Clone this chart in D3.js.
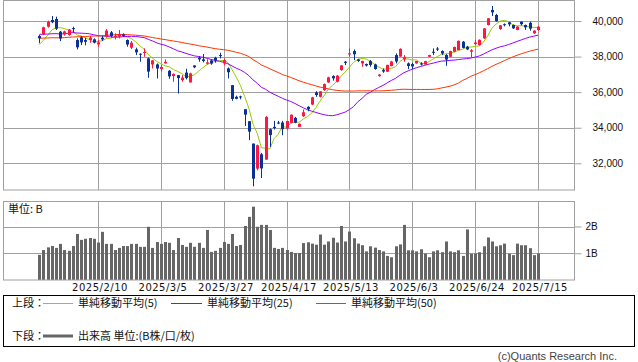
<!DOCTYPE html>
<html>
<head>
<meta charset="utf-8">
<script src="https://cdn.jsdelivr.net/npm/d3@7"></script>
<style>
  html, body { margin: 0; padding: 0; background: #fff; }
  svg { display: block; }
</style>
</head>
<body>
<div id="chart"></div>
<script>
// daily bars, 2025/1/21 .. 2025/7/15
var dates = ["2025/1/21","2025/1/22","2025/1/23","2025/1/24","2025/1/27","2025/1/28","2025/1/29","2025/1/30","2025/1/31",
  "2025/2/3","2025/2/4","2025/2/5","2025/2/6","2025/2/7","2025/2/10","2025/2/12","2025/2/13","2025/2/14","2025/2/17",
  "2025/2/18","2025/2/19","2025/2/20","2025/2/21","2025/2/25","2025/2/26","2025/2/27","2025/2/28","2025/3/3","2025/3/4",
  "2025/3/5","2025/3/6","2025/3/7","2025/3/10","2025/3/11","2025/3/12","2025/3/13","2025/3/14","2025/3/17","2025/3/18",
  "2025/3/19","2025/3/21","2025/3/24","2025/3/25","2025/3/26","2025/3/27","2025/3/28","2025/3/31","2025/4/1","2025/4/2",
  "2025/4/3","2025/4/4","2025/4/7","2025/4/8","2025/4/9","2025/4/10","2025/4/11","2025/4/14","2025/4/15","2025/4/16",
  "2025/4/17","2025/4/18","2025/4/21","2025/4/22","2025/4/23","2025/4/24","2025/4/25","2025/4/28","2025/4/30","2025/5/1",
  "2025/5/2","2025/5/7","2025/5/8","2025/5/9","2025/5/12","2025/5/13","2025/5/14","2025/5/15","2025/5/16","2025/5/19",
  "2025/5/20","2025/5/21","2025/5/22","2025/5/23","2025/5/26","2025/5/27","2025/5/28","2025/5/29","2025/5/30","2025/6/2",
  "2025/6/3","2025/6/4","2025/6/5","2025/6/6","2025/6/9","2025/6/10","2025/6/11","2025/6/12","2025/6/13","2025/6/16",
  "2025/6/17","2025/6/18","2025/6/19","2025/6/20","2025/6/23","2025/6/24","2025/6/25","2025/6/26","2025/6/27","2025/6/30",
  "2025/7/1","2025/7/2","2025/7/3","2025/7/4","2025/7/7","2025/7/8","2025/7/9","2025/7/10","2025/7/11","2025/7/14","2025/7/15"];

var open = [39155,39250,39680,40056,40113,39399,39249,39211,39600,
  38930,39080,38930,38930,38967,38685,39061,39117,39361,39100,
  39117,39249,38930,38498,38404,38160,38216,37897,37559,37559,
  37296,37615,37202,36901,36958,36676,37100,36545,37502,37934,
  37840,37600,37780,37934,38084,37615,37333,36394,35737,35760,
  35042,34366,33108,31699,32507,32206,33915,34047,34291,34291,
  33953,34272,34554,34047,34648,35174,35305,35981,35737,36112,
  36545,36901,36582,37239,37709,38120,38310,37840,37615,37580,
  37746,37559,36901,37239,37146,37465,38084,38000,37840,37615,
  37577,37615,37615,37559,37990,38272,38450,38310,38084,37990,
  38272,38366,38836,38554,38272,38700,38648,39023,39775,40620,
  40338,39550,39820,39925,39775,39493,39962,39775,39900,39305,39493];

var high = [39211,39680,40019,40280,40244,39437,39455,39549,39681,
  39023,39155,39061,39155,39023,38930,39155,39549,39437,39305,
  39493,39305,38967,38873,38498,38178,38460,37950,37803,37615,
  37521,37840,37239,37052,36958,36958,37314,37089,37502,38028,
  38141,37850,37840,37990,38216,37897,37390,36394,35800,35800,
  35042,34366,33108,33050,32582,34650,33953,34385,34385,34385,
  34385,34750,34610,34240,35023,35211,35737,36056,36056,36488,
  36864,36950,36958,37530,37750,38460,38404,37870,37765,37610,
  37803,37600,37014,37333,37540,37760,38178,38460,38084,37671,
  37653,37760,37680,37760,38100,38460,38536,38350,38141,38330,
  38560,38900,38873,38600,38420,38930,38967,39600,40170,40845,
  40400,39775,39860,39950,39800,39700,39980,39800,39962,39480,39720];

var low = [38750,39211,39624,39880,39493,38870,39174,39174,39361,
  38404,38648,38630,38779,38742,38554,38873,39061,39080,38967,
  39023,39100,38554,38422,38084,37709,37990,36807,37333,36770,
  37146,37615,36751,36582,35925,36582,36714,36545,37350,37709,
  37671,37559,37540,37653,37897,37521,36770,35512,35600,35600,
  34100,33300,30704,31606,31173,32206,32920,33897,34200,33577,
  33897,34250,34250,34047,34610,34929,35267,35737,35700,36075,
  36526,36650,36545,37202,37520,37990,37803,37700,37427,37440,
  37427,37260,36870,37089,37130,37450,37615,37990,37709,37296,
  37296,37600,37500,37540,37970,38084,38310,38084,37483,37970,
  38250,38350,38460,38366,37953,38660,38620,39000,39750,40282,
  39960,39500,39700,39700,39550,39480,39750,39500,39455,39280,39450];

var close = [39028,39646,39959,39932,39566,39017,39415,39514,39572,
  38520,38798,38831,39066,38787,38801,38964,39461,39149,39174,
  39270,39165,38678,38777,38238,38142,38256,37155,37785,37331,
  37418,37705,36887,37028,36793,36819,36790,37053,37397,37845,
  37752,37677,37608,37780,38027,37800,37120,35618,35624,35726,
  34736,33781,31137,33013,31714,34609,33586,33982,34268,33920,
  34378,34730,34280,34221,34869,35039,35706,35840,36045,36452,
  36831,36780,36929,37503,37644,38183,38128,37756,37754,37499,
  37529,37299,36986,37160,37532,37724,37722,38433,37965,37471,
  37447,37747,37554,37742,38089,38212,38421,38173,37834,38311,
  38537,38885,38488,38403,38354,38791,38942,39585,40151,40487,
  39986,39762,39786,39811,39588,39689,39821,39646,39570,39460,39678];

// volume, billions of shares
var volume = [0.94,1.12,1.22,1.27,1.20,1.35,1.12,1.09,1.27,
  1.72,1.50,1.54,1.57,1.54,1.40,1.80,1.35,1.35,1.12,
  1.20,1.27,1.27,1.35,1.35,1.24,1.24,1.99,1.20,1.42,
  1.35,1.42,1.39,1.12,1.57,1.31,1.24,1.39,1.24,1.39,
  1.20,1.87,1.05,1.09,1.20,1.42,1.35,1.72,1.27,1.31,
  2.02,2.36,2.74,1.99,2.06,2.06,1.87,1.20,1.16,1.20,
  1.12,1.05,1.01,1.01,1.38,1.41,1.36,1.32,1.70,1.32,
  1.44,1.58,1.40,2.02,1.44,1.81,1.56,1.36,1.30,1.07,
  1.26,1.21,1.12,1.07,0.90,0.85,1.26,1.33,2.06,1.11,
  1.11,1.07,1.15,0.99,0.85,1.07,1.11,1.04,1.44,1.07,
  1.04,1.11,0.90,1.89,0.98,0.99,1.04,1.26,1.59,1.44,
  1.26,1.30,1.36,0.98,0.93,1.36,1.30,1.30,1.19,0.93,0.99];

// closes of the 49 sessions before 2025/1/21 (needed for the moving averages)
var priorClose = [39481,39381,39500,39533,39376,38722,38536,38643,38221,38414,
  38352,38026,38284,38780,38442,38135,38349,38208,38513,39249,
  39276,39396,39091,39161,39368,39372,39849,39470,39457,39365,
  39082,38814,38702,39161,39037,39130,39568,40281,39895,39307,
  40083,39981,39605,39190,38474,38445,38573,38451,38903];

var priceTicks = [32000, 34000, 36000, 38000, 40000];
var volumeTicks = [1, 2];
var maPeriods = [5, 25, 50];
var maColors = ["#99cc00", "#9900ff", "#ff3300"];

var W = 638, H = 362;
var left = 3, right = 574;
var gridCol = "#a0a0a0";
var upCol = "#ff1744", downCol = "#0a3296";
var jpFont = "'Noto Sans CJK JP', sans-serif";
var numFont = "'Liberation Sans', Arial, sans-serif";

var svg = d3.select("#chart").append("svg")
  .attr("width", W).attr("height", H);

var n = dates.length;
var x = d3.scaleLinear().domain([0, n - 1]).range([39.3, 538]);
var y = d3.scaleLinear().domain([32000, 40000]).range([163.3, 21]);
var yv = d3.scaleLinear().domain([0, 2]).range([280, 226.5]);

var gridIdx = d3.range(14, n, 15);
function px(i) { return Math.round(x(i)); }

// ---- price panel ----
var priceG = svg.append("g");
priceG.selectAll("line.hg").data(priceTicks).enter().append("line")
  .attr("x1", left).attr("x2", right)
  .attr("y1", function (d) { return Math.round(y(d)) + 0.5; })
  .attr("y2", function (d) { return Math.round(y(d)) + 0.5; })
  .attr("stroke", gridCol);
priceG.selectAll("line.vg").data(gridIdx).enter().append("line")
  .attr("x1", function (d) { return px(d) + 0.5; })
  .attr("x2", function (d) { return px(d) + 0.5; })
  .attr("y1", 0).attr("y2", 190)
  .attr("stroke", gridCol);
priceG.append("rect").attr("x", left + 0.5).attr("y", 0.5)
  .attr("width", right - left).attr("height", 189.5)
  .attr("fill", "none").attr("stroke", gridCol);

var yAxis = d3.axisRight(y).tickValues(priceTicks).tickSize(7).tickPadding(11)
  .tickFormat(d3.format(","));
var ya = priceG.append("g").attr("transform", "translate(" + (right + 0.5) + ",0)").call(yAxis);
ya.select(".domain").remove();
ya.selectAll("line").attr("stroke", gridCol);
ya.selectAll("text").attr("font-family", numFont).attr("font-size", "10px").attr("fill", "#111");

// moving averages
var allClose = priorClose.concat(close);
var off = priorClose.length;
maPeriods.forEach(function (p, k) {
  var vals = close.map(function (c, i) {
    return d3.mean(allClose.slice(off + i - p + 1, off + i + 1));
  });
  var line = d3.line()
    .x(function (d, i) { return x(i); })
    .y(function (d) { return y(d); });
  priceG.append("path").datum(vals)
    .attr("d", line)
    .attr("fill", "none")
    .attr("stroke", maColors[k])
    .attr("stroke-width", 1);
});

// candles
var candles = priceG.selectAll("g.c").data(close).enter().append("g");
candles.append("line")
  .attr("x1", function (d, i) { return px(i) + 0.5; })
  .attr("x2", function (d, i) { return px(i) + 0.5; })
  .attr("y1", function (d, i) { return y(high[i]); })
  .attr("y2", function (d, i) { return y(low[i]); })
  .attr("stroke", function (d, i) { return d >= open[i] ? upCol : downCol; });
candles.append("rect")
  .attr("x", function (d, i) { return px(i) - 1; })
  .attr("width", 3)
  .attr("y", function (d, i) { return Math.min(y(open[i]), y(d)); })
  .attr("height", function (d, i) { return Math.max(1, Math.abs(y(open[i]) - y(d))); })
  .attr("fill", function (d, i) { return d >= open[i] ? upCol : downCol; });

// ---- volume panel ----
var volG = svg.append("g");
volG.selectAll("line.hg").data(volumeTicks).enter().append("line")
  .attr("x1", left).attr("x2", right)
  .attr("y1", function (d) { return Math.round(yv(d)) + 0.5; })
  .attr("y2", function (d) { return Math.round(yv(d)) + 0.5; })
  .attr("stroke", gridCol);
volG.selectAll("line.vg").data(gridIdx).enter().append("line")
  .attr("x1", function (d) { return px(d) + 0.5; })
  .attr("x2", function (d) { return px(d) + 0.5; })
  .attr("y1", 201).attr("y2", 280)
  .attr("stroke", gridCol);
volG.selectAll("rect.v").data(volume).enter().append("rect")
  .attr("x", function (d, i) { return px(i) - 1; })
  .attr("width", 3)
  .attr("y", function (d) { return yv(d); })
  .attr("height", function (d) { return 280 - yv(d); })
  .attr("fill", "#666");
volG.append("rect").attr("x", left + 0.5).attr("y", 201.5)
  .attr("width", right - left).attr("height", 78.5)
  .attr("fill", "none").attr("stroke", gridCol);

var vAxis = d3.axisRight(yv).tickValues(volumeTicks).tickSize(7).tickPadding(4)
  .tickFormat(function (d) { return d + "B"; });
var va = volG.append("g").attr("transform", "translate(" + (right + 0.5) + ",0)").call(vAxis);
va.select(".domain").remove();
va.selectAll("line").attr("stroke", gridCol);
va.selectAll("text").attr("font-family", numFont).attr("font-size", "10px").attr("fill", "#111");

volG.append("text").attr("x", 8).attr("y", 213)
  .attr("font-family", jpFont).attr("font-size", "11px").attr("fill", "#111")
  .text("単位: B");

// date labels
svg.selectAll("text.xl").data(gridIdx).enter().append("text")
  .attr("x", function (d) { return px(d) + 2; })
  .attr("y", 291)
  .attr("text-anchor", "middle")
  .attr("font-family", "'DejaVu Sans', sans-serif")
  .attr("font-size", "10px")
  .attr("letter-spacing", "0.5px")
  .attr("fill", "#111")
  .text(function (d) { return dates[d]; });

// ---- legend ----
var lg = svg.append("g").attr("font-family", jpFont).attr("font-size", "11px").attr("fill", "#111");
lg.append("rect").attr("x", 3.5).attr("y", 295.5).attr("width", 631).attr("height", 51)
  .attr("fill", "none").attr("stroke", "#000");
lg.append("text").attr("x", 12).attr("y", 307).text("上段：");
var legItems = [
  { x0: 43, x1: 73, tx: 78, label: "単純移動平均(5)" },
  { x0: 171, x1: 202, tx: 207, label: "単純移動平均(25)" },
  { x0: 316, x1: 346, tx: 351, label: "単純移動平均(50)" }
];
legItems.forEach(function (d, k) {
  lg.append("line").attr("x1", d.x0).attr("x2", d.x1).attr("y1", 303.5).attr("y2", 303.5)
    .attr("stroke", maColors[k]).attr("stroke-width", 1);
  lg.append("text").attr("x", d.tx).attr("y", 307).text(d.label);
});
lg.append("text").attr("x", 12).attr("y", 340).text("下段：");
lg.append("line").attr("x1", 43).attr("x2", 73).attr("y1", 336).attr("y2", 336)
  .attr("stroke", "#666").attr("stroke-width", 3);
lg.append("text").attr("x", 78).attr("y", 340).text("出来高 単位:(B株/口/枚)");

svg.append("text").attr("x", 617).attr("y", 360).attr("text-anchor", "end")
  .attr("font-family", numFont).attr("font-size", "11px").attr("fill", "#444")
  .text("(c)Quants Research Inc.");
</script>
</body>
</html>
